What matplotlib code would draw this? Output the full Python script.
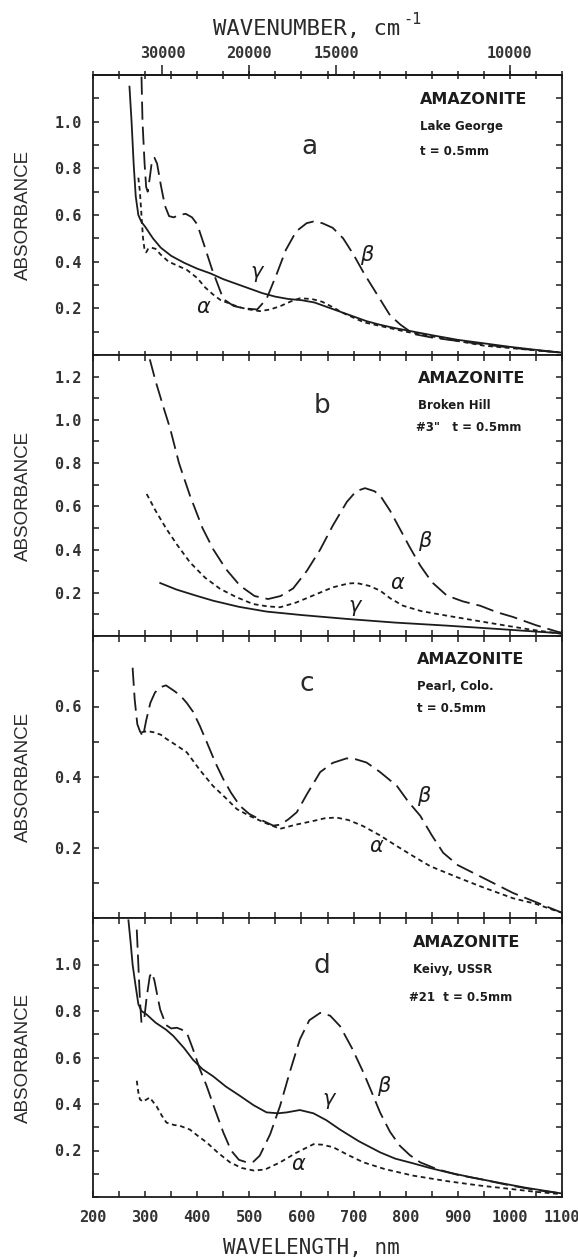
import numpy as np
import matplotlib
matplotlib.use("Agg")
import matplotlib.pyplot as plt
from matplotlib.ticker import MultipleLocator, NullLocator

plt.rcParams["lines.scale_dashes"] = False

# ---------------- spectra (wavelength in nm, absorbance) ----------------
# a: Lake George
a_beta_nm = [292, 295, 299, 302, 305, 309, 313, 318, 323, 330, 338, 346, 355, 365, 378, 390, 400,
             412, 428, 450, 470, 490, 515, 533, 553, 570, 590, 610, 623, 640, 660, 680, 700, 720,
             745, 770, 790, 815, 850, 900, 950, 1000, 1050, 1100]
a_beta = [1.30, 1.00, 0.82, 0.72, 0.70, 0.76, 0.83, 0.845, 0.82, 0.73, 0.64, 0.595, 0.59, 0.60,
          0.605, 0.59, 0.56, 0.48, 0.37, 0.24, 0.21, 0.20, 0.195, 0.24, 0.35, 0.45, 0.53, 0.565,
          0.572, 0.565, 0.545, 0.50, 0.43, 0.35, 0.26, 0.17, 0.13, 0.09, 0.075, 0.06, 0.045,
          0.032, 0.02, 0.01]
a_alpha_nm = [287, 290, 293, 296, 299, 302, 306, 312, 320, 330, 345, 360, 380, 400, 415, 430, 445,
              463, 480, 500, 520, 540, 560, 580, 597, 620, 640, 660, 680, 700, 720, 760, 800, 850,
              900, 950, 1000, 1050, 1100]
a_alpha = [0.76, 0.70, 0.60, 0.50, 0.45, 0.44, 0.455, 0.46, 0.455, 0.43, 0.40, 0.385, 0.365, 0.33,
           0.29, 0.26, 0.235, 0.22, 0.205, 0.195, 0.188, 0.195, 0.21, 0.23, 0.243, 0.24, 0.228,
           0.205, 0.18, 0.16, 0.14, 0.12, 0.10, 0.08, 0.06, 0.04, 0.03, 0.02, 0.01]
a_gamma_nm = [270, 274, 278, 282, 287, 293, 300, 315, 330, 350, 375, 400, 425, 450, 475, 500, 525,
              550, 575, 600, 625, 650, 675, 700, 725, 750, 780, 815, 850, 900, 950, 1000, 1050, 1100]
a_gamma = [1.15, 1.00, 0.82, 0.68, 0.60, 0.57, 0.55, 0.50, 0.46, 0.425, 0.395, 0.37, 0.35, 0.325,
           0.305, 0.285, 0.265, 0.25, 0.24, 0.235, 0.225, 0.205, 0.185, 0.165, 0.145, 0.13,
           0.115, 0.10, 0.085, 0.065, 0.05, 0.035, 0.022, 0.01]

# b: Broken Hill #3"
b_beta_nm = [309, 320, 335, 348, 365, 386, 410, 431, 455, 482, 510, 536, 560, 584, 610, 636, 660,
             687, 705, 722, 740, 751, 770, 789, 808, 828, 850, 879, 910, 943, 975, 1006, 1050,
             1091, 1100]
b_beta = [1.28, 1.18, 1.06, 0.96, 0.80, 0.65, 0.50, 0.40, 0.31, 0.233, 0.185, 0.171, 0.185, 0.22,
          0.30, 0.40, 0.51, 0.62, 0.67, 0.684, 0.67, 0.65, 0.58, 0.495, 0.41, 0.326, 0.25, 0.187,
          0.16, 0.14, 0.11, 0.088, 0.05, 0.02, 0.015]
b_alpha_nm = [303, 320, 341, 362, 386, 415, 444, 475, 507, 535, 559, 590, 622, 660, 690, 706, 730,
              751, 770, 795, 830, 879, 950, 1000, 1039, 1100]
b_alpha = [0.657, 0.58, 0.495, 0.42, 0.341, 0.27, 0.218, 0.18, 0.148, 0.137, 0.133, 0.155, 0.187,
           0.225, 0.243, 0.245, 0.232, 0.21, 0.175, 0.14, 0.115, 0.094, 0.065, 0.045, 0.03, 0.01]
b_gamma_nm = [329, 360, 400, 431, 480, 533, 600, 687, 780, 879, 980, 1071, 1100]
b_gamma = [0.245, 0.215, 0.185, 0.163, 0.135, 0.113, 0.097, 0.079, 0.062, 0.048, 0.032, 0.017,
           0.012]

# c: Pearl, Colo.
c_beta_nm = [276, 280, 285, 290, 296, 302, 310, 319, 330, 340, 355, 367, 380, 392, 405, 418, 435,
             450, 465, 482, 500, 520, 546, 560, 575, 591, 610, 636, 660, 687, 705, 725, 750, 783,
             805, 828, 850, 872, 900, 943, 1006, 1050, 1083, 1100]
c_beta = [0.71, 0.62, 0.55, 0.53, 0.515, 0.56, 0.61, 0.64, 0.655, 0.66, 0.645, 0.632, 0.61, 0.585,
          0.545, 0.50, 0.44, 0.394, 0.355, 0.318, 0.295, 0.28, 0.262, 0.265, 0.28, 0.30, 0.35,
          0.414, 0.44, 0.453, 0.45, 0.441, 0.415, 0.375, 0.33, 0.29, 0.235, 0.185, 0.15, 0.118,
          0.071, 0.045, 0.025, 0.015]
c_alpha_nm = [293, 305, 316, 330, 341, 360, 380, 405, 430, 455, 476, 500, 530, 559, 590, 622, 645,
              667, 690, 718, 750, 783, 815, 847, 900, 943, 1006, 1050, 1083, 1100]
c_alpha = [0.527, 0.53, 0.527, 0.52, 0.508, 0.49, 0.47, 0.42, 0.375, 0.34, 0.309, 0.29, 0.27,
           0.253, 0.265, 0.275, 0.283, 0.285, 0.278, 0.261, 0.235, 0.204, 0.175, 0.147, 0.115,
           0.09, 0.056, 0.04, 0.023, 0.015]

# d: Keivy, USSR #21
d_beta_nm = [284, 287, 290, 293, 298, 303, 309, 313, 318, 324, 329, 340, 350, 361, 370, 380, 392,
             405, 418, 435, 450, 465, 480, 495, 508, 520, 540, 559, 578, 597, 615, 636, 655, 674,
             697, 719, 735, 751, 770, 789, 808, 828, 860, 900, 943, 1000, 1050, 1100]
d_beta = [1.15, 1.00, 0.85, 0.75, 0.76, 0.86, 0.95, 0.965, 0.93, 0.86, 0.806, 0.74, 0.725, 0.728,
          0.72, 0.707, 0.635, 0.55, 0.478, 0.37, 0.278, 0.20, 0.16, 0.149, 0.152, 0.178, 0.27,
          0.392, 0.54, 0.678, 0.76, 0.792, 0.78, 0.735, 0.64, 0.535, 0.45, 0.363, 0.28, 0.22,
          0.18, 0.149, 0.12, 0.095, 0.077, 0.05, 0.03, 0.015]
d_alpha_nm = [284, 287, 290, 296, 303, 309, 315, 322, 332, 341, 355, 367, 386, 400, 418, 440, 463,
              485, 508, 530, 559, 590, 623, 640, 661, 690, 719, 760, 814, 880, 943, 1000, 1050,
              1100]
d_alpha = [0.50, 0.45, 0.42, 0.41, 0.42, 0.428, 0.41, 0.39, 0.35, 0.32, 0.31, 0.306, 0.29, 0.265,
           0.235, 0.19, 0.149, 0.125, 0.114, 0.118, 0.149, 0.19, 0.227, 0.225, 0.214, 0.18,
           0.149, 0.12, 0.092, 0.068, 0.049, 0.035, 0.022, 0.012]
d_gamma_nm = [268, 272, 276, 281, 287, 293, 303, 320, 340, 354, 375, 392, 410, 430, 455, 482, 508,
              533, 555, 572, 597, 623, 648, 674, 710, 751, 780, 814, 846, 879, 925, 975, 1030,
              1083, 1100]
d_gamma = [1.19, 1.10, 1.00, 0.92, 0.83, 0.80, 0.785, 0.75, 0.72, 0.693, 0.64, 0.59, 0.55, 0.52,
           0.475, 0.435, 0.395, 0.364, 0.36, 0.364, 0.374, 0.36, 0.33, 0.29, 0.24, 0.192, 0.165,
           0.145, 0.125, 0.107, 0.085, 0.063, 0.04, 0.021, 0.015]

panel_letters = ["a", "b", "c", "d"]
localities = ["Lake George", "Broken Hill", "Pearl, Colo.", "Keivy, USSR"]
thickness_lines = ["t = 0.5mm", '#3"   t = 0.5mm', "t = 0.5mm", "#21  t = 0.5mm"]
y_limits = [1.2, 1.3, 0.8, 1.2]
y_tick_labels = [
    ["0.2", "0.4", "0.6", "0.8", "1.0"],
    ["0.2", "0.4", "0.6", "0.8", "1.0", "1.2"],
    ["0.2", "0.4", "0.6"],
    ["0.2", "0.4", "0.6", "0.8", "1.0"],
]
wavelength_ticks = [200, 300, 400, 500, 600, 700, 800, 900, 1000, 1100]
wavenumber_ticks = [30000, 20000, 15000, 10000]

# ---------------- layout ----------------
W, H = 578, 1259
fig = plt.figure(figsize=(W / 100, H / 100), dpi=100)
fig.patch.set_facecolor("white")

left_px, right_px = 93, 562
panel_px = [(75, 355), (355, 636), (636, 918), (918, 1197)]

INK = "#1c1c1c"
LABEL_INK = "#333333"
MONO = ["DejaVu Sans Mono"]
LW = 1.3
BETA_DASH = (0, (13, 5.0))
ALPHA_DASH = (0, (3.4, 2.6))

series = [
    dict(beta=(a_beta_nm, a_beta), alpha=(a_alpha_nm, a_alpha), gamma=(a_gamma_nm, a_gamma)),
    dict(beta=(b_beta_nm, b_beta), alpha=(b_alpha_nm, b_alpha), gamma=(b_gamma_nm, b_gamma)),
    dict(beta=(c_beta_nm, c_beta), alpha=(c_alpha_nm, c_alpha), gamma=None),
    dict(beta=(d_beta_nm, d_beta), alpha=(d_alpha_nm, d_alpha), gamma=(d_gamma_nm, d_gamma)),
]

# annotation anchors in data units (nm, absorbance)
title_xy = [(827, 1.095), (824, 1.19), (822, 0.732), (814, 1.093)]
loc_y = [0.978, 1.065, 0.657, 0.979]
thick_xy = [(827, 0.871), (820, 0.963), (822, 0.594), (806, 0.858)]
letter_xy = [(616, 0.89), (639, 1.066), (610, 0.663), (639, 0.993)]
beta_xy = [(725, 0.43), (837, 0.441), (834, 0.347), (757, 0.478)]
alpha_xy = [(412, 0.207), (783, 0.245), (744, 0.204), (594, 0.142)]
gamma_xy = [(514, 0.357), (703, 0.14), None, (652, 0.42)]


def nm_to_wn(x):
    x = np.asarray(x, dtype=float)
    with np.errstate(divide="ignore"):
        return 1e7 / x


def style_labels(labels, size=11):
    for lab in labels:
        lab.set_fontfamily(MONO)
        lab.set_fontweight("bold")
        lab.set_fontsize(size)
        lab.set_color(LABEL_INK)


axes = []
for i, (top, bot) in enumerate(panel_px):
    ax = fig.add_axes([left_px / W, 1 - bot / H, (right_px - left_px) / W, (bot - top) / H])
    axes.append(ax)
    ax.set_xlim(200, 1100)
    ax.set_ylim(0, y_limits[i])
    for s in ax.spines.values():
        s.set_linewidth(1.3)
        s.set_color(INK)

    d = series[i]
    ax.plot(*d["beta"], color=INK, lw=LW, linestyle=BETA_DASH, dash_capstyle="butt")
    ax.plot(*d["alpha"], color=INK, lw=LW, linestyle=ALPHA_DASH, dash_capstyle="butt")
    if d["gamma"] is not None:
        ax.plot(*d["gamma"], color=INK, lw=LW, linestyle="-")

    ax.set_xticks(wavelength_ticks)
    ax.xaxis.set_minor_locator(MultipleLocator(50))
    ax.set_yticks([float(v) for v in y_tick_labels[i]])
    ax.set_yticklabels(y_tick_labels[i])
    ax.yaxis.set_minor_locator(MultipleLocator(0.1))
    ax.tick_params(axis="x", which="both", direction="in", length=4, width=1.1, color=INK,
                   top=True, bottom=True, labelbottom=(i == 3), labeltop=False, pad=9)
    ax.tick_params(axis="y", which="both", direction="in", length=4, width=1.1, color=INK,
                   left=True, right=True, pad=8)
    style_labels(ax.get_yticklabels())

    # sample description
    ax.text(*title_xy[i], "AMAZONITE", fontsize=11.5, fontweight="bold", color=INK,
            family="DejaVu Sans", va="center", ha="left")
    ax.text(title_xy[i][0], loc_y[i], localities[i], fontsize=8.5, fontweight="bold",
            color=INK, family="DejaVu Sans", va="center", ha="left")
    ax.text(*thick_xy[i], thickness_lines[i], fontsize=8.5, fontweight="bold", color=INK,
            family="DejaVu Sans", va="center", ha="left")
    ax.text(*letter_xy[i], panel_letters[i], fontsize=19, color="#2a2a2a",
            family="DejaVu Sans", va="center", ha="center")

    # polarization labels
    ax.text(*beta_xy[i], "β", fontsize=15, style="italic", color=INK, va="center", ha="center")
    ax.text(*alpha_xy[i], "α", fontsize=15, style="italic", color=INK, va="center", ha="center")
    if gamma_xy[i] is not None:
        ax.text(*gamma_xy[i], "γ", fontsize=15, style="italic", color=INK, va="center",
                ha="center")

    fig.text(23 / W, 1 - (top + bot) / 2 / H, "ABSORBANCE", rotation=90, fontsize=13.5,
             family="Liberation Sans", color="#2a2a2a", va="center", ha="center")

# wavelength tick labels on the bottom panel
axes[3].set_xticklabels([str(v) for v in wavelength_ticks])
style_labels(axes[3].get_xticklabels())

# wavenumber scale along the top of panel a
ax_top = axes[0]
ax_top.tick_params(axis="x", which="both", top=True, direction="inout", length=6)
sec = ax_top.secondary_xaxis("top", functions=(nm_to_wn, nm_to_wn))
sec.set_xticks(wavenumber_ticks)
sec.set_xticklabels([str(v) for v in wavenumber_ticks])
sec.xaxis.set_minor_locator(NullLocator())
sec.tick_params(axis="x", direction="out", length=7, width=1.1, color=INK, pad=3)
sec.spines["top"].set_linewidth(1.3)
style_labels(sec.get_xticklabels())

# axis titles
fig.text(400 / W, 1 - 29 / H, "WAVENUMBER, cm", family=MONO, fontsize=16, color="#2a2a2a",
         ha="right", va="center")
fig.text(403 / W, 1 - 20 / H, "-1", family=MONO, fontsize=11, color="#2a2a2a",
         ha="left", va="center")
fig.text(311 / W, 1 - 1248 / H, "WAVELENGTH, nm", family=MONO, fontsize=15,
         color="#2a2a2a", ha="center", va="center")

fig.savefig("out.png", dpi=100, facecolor="white")
